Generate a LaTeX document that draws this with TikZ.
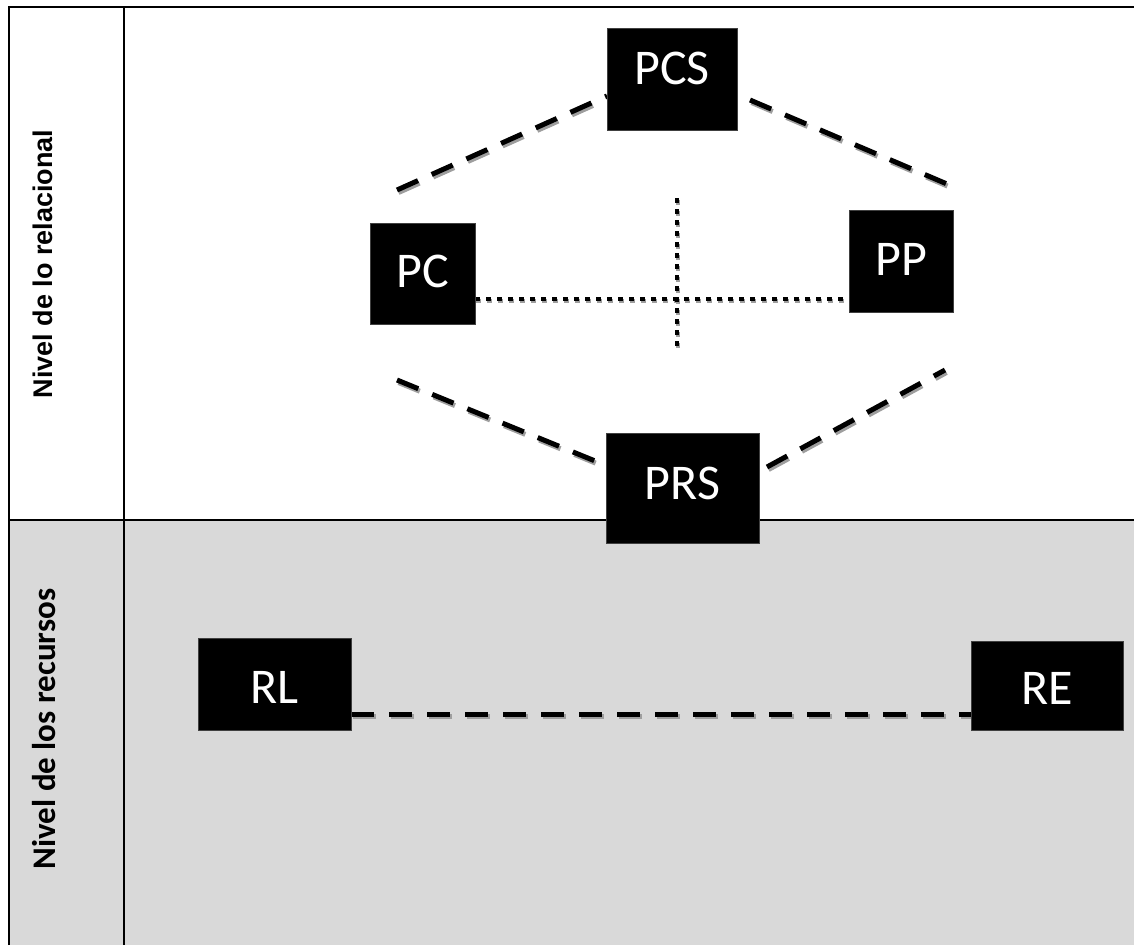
\documentclass[tikz,border=0pt]{standalone}
\usepackage{fontspec}
\setmainfont{Carlito}
\newfontfamily\arialfont{Liberation Sans}
\pgfdeclarelayer{bgl}
\pgfdeclarelayer{lnl}
\pgfsetlayers{bgl,lnl,main}
\begin{document}
\begin{tikzpicture}[x=1pt,y=-1pt,
  box/.style={fill=black, draw=black!75, line width=0.6pt, inner sep=0pt, outer sep=0pt},
  txt/.style={text=white, font=\fontsize{50}{56}\selectfont, inner sep=0pt},
  dashln/.style={line width=5pt, dash pattern=on 23pt off 15pt,
    preaction={draw=black!38, line width=5pt, dash pattern=on 23pt off 15pt,
      transform canvas={xshift=1.5pt,yshift=-2.5pt}}},
  dotln/.style={line width=4.5pt, dash pattern=on 5pt off 6pt,
    preaction={draw=black!38, line width=4.5pt, dash pattern=on 5pt off 6pt,
      transform canvas={xshift=1pt,yshift=-2pt}}},
  frame/.style={line width=2pt},
  side/.style={rotate=90, inner sep=0pt}
]
\useasboundingbox (0,0) rectangle (1134,945);

% boxes
\node[box, minimum width=130pt, minimum height=102pt, label={[txt,yshift=10.5pt]center:PCS}] (PCS) at (672,79) {};
\node[box, minimum width=105pt, minimum height=101pt, label={[txt,yshift=2.5pt]center:PC}] (PC) at (422.5,273.5) {};
\node[box, minimum width=104pt, minimum height=102pt, label={[txt,yshift=2pt]center:PP}] (PP) at (901,261) {};
\node[box, minimum width=153pt, minimum height=110pt, label={[txt,yshift=5pt]center:PRS}] (PRS) at (682.5,488) {};
\node[box, minimum width=153pt, minimum height=92pt, label={[txt,yshift=-3.5pt]center:RL}] (RL) at (274.5,684) {};
\node[box, minimum width=152pt, minimum height=89pt, label={[txt,yshift=-2.5pt]center:RE}] (RE) at (1047,685.5) {};

% side labels
\node[side, font=\arialfont\bfseries\fontsize{27}{30}\selectfont] (lrel) at (43,264) {Nivel de lo relacional};
\node[side, font=\bfseries\fontsize{33}{36}\selectfont] (lrec) at (44,729) {Nivel de los recursos};

% connectors
\begin{pgfonlayer}{lnl}
  \coordinate (ul1) at (397,190); \coordinate (ul2) at (607,96);
  \coordinate (ur1) at (750,100); \coordinate (ur2) at (947,184);
  \coordinate (ll1) at (397,380); \coordinate (ll2) at (600,463);
  \coordinate (lr1) at (767,467); \coordinate (lr2) at (945,370);
  \coordinate (cross) at (677,299);
  \coordinate (vtop) at (677,198); \coordinate (vbot) at (677,347);
  \coordinate (rline) at (660,714);
  \draw[dashln] (ul1) -- (ul2);
  \draw[dashln] (ur1) -- (ur2);
  \draw[dashln] (ll1) -- (ll2);
  \draw[dashln] (lr1) -- (lr2);
  \draw[dotln] (PC.east |- cross) -- (PP.west |- cross);
  \draw[dotln] (vtop) -- (vbot);
  \draw[dashln] (RL.east |- rline) -- (RE.west |- rline);
\end{pgfonlayer}

% table
\begin{pgfonlayer}{bgl}
  \fill[fill={rgb,255:red,217;green,217;blue,217}] (9,520) rectangle (1134,945);
  \draw[frame] (9,945) -- (9,7) -- (1134,7);
  \draw[frame] (124,7) -- (124,945);
  \draw[frame] (9,520) -- (1134,520);
\end{pgfonlayer}
\end{tikzpicture}
\end{document}
